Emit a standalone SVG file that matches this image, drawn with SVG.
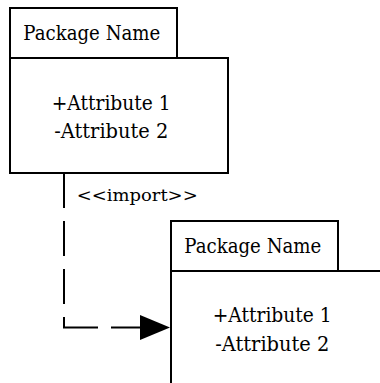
<svg xmlns="http://www.w3.org/2000/svg" width="380" height="383" viewBox="0 0 380 383">
<defs>
<style>
.box{fill:#fff;stroke:#000;stroke-width:2}
.t{font-family:"DejaVu Serif","Liberation Serif",serif;font-size:20.5px;fill:#000}
.lbl{font-family:"DejaVu Serif","Liberation Serif",serif;font-size:17.5px;fill:#000}
.dash{fill:none;stroke:#000;stroke-width:2;stroke-dasharray:35 13}
</style>
</defs>
<rect width="380" height="383" fill="#fff"/>
<g id="pkg1">
<rect class="box" x="10" y="8" width="167" height="50"/>
<rect class="box" x="10" y="58" width="218" height="115"/>
<text class="t" x="23.3" y="40" textLength="137" lengthAdjust="spacingAndGlyphs">Package Name</text>
<text class="t" x="51.7" y="110" textLength="119" lengthAdjust="spacingAndGlyphs">+Attribute 1</text>
<text class="t" x="54.3" y="138" textLength="114" lengthAdjust="spacingAndGlyphs">-Attribute 2</text>
</g>
<g id="pkg2">
<rect class="box" x="171" y="221" width="167" height="50"/>
<rect class="box" x="171" y="271" width="218" height="115"/>
<text class="t" x="184.3" y="253" textLength="137" lengthAdjust="spacingAndGlyphs">Package Name</text>
<text class="t" x="212.7" y="322" textLength="119" lengthAdjust="spacingAndGlyphs">+Attribute 1</text>
<text class="t" x="215.3" y="351" textLength="114" lengthAdjust="spacingAndGlyphs">-Attribute 2</text>
</g>
<g id="connectors">
<line class="dash" x1="64" y1="173" x2="64" y2="327.5"/>
<line class="dash" x1="63" y1="327.5" x2="145" y2="327.5"/>
<polygon points="140,315 170,327.5 140,340" fill="#000"/>
<text class="lbl" x="76.7" y="200.7" textLength="121" lengthAdjust="spacingAndGlyphs">&lt;&lt;import&gt;&gt;</text>
</g>
</svg>
